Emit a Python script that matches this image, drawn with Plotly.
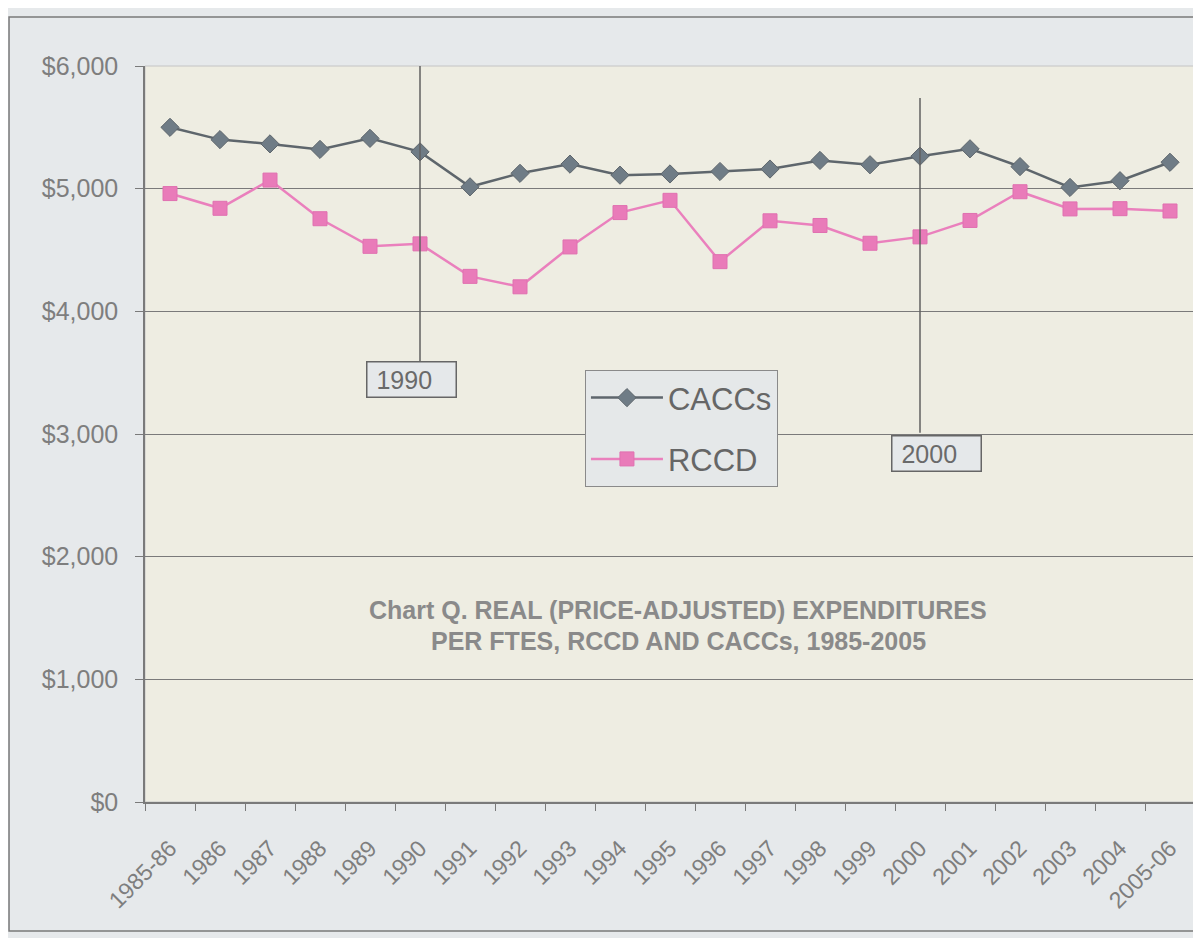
"""Chart Q: real (price-adjusted) expenditures per FTES, RCCD vs CACCs."""

import plotly.graph_objects as go

years = [
    "1985-86", "1986", "1987", "1988", "1989", "1990", "1991", "1992",
    "1993", "1994", "1995", "1996", "1997", "1998", "1999", "2000",
    "2001", "2002", "2003", "2004", "2005-06",
]
caccs = [
    5500, 5400, 5365, 5320, 5410, 5300, 5015, 5125, 5200, 5110, 5120,
    5140, 5160, 5230, 5195, 5265, 5325, 5180, 5010, 5065, 5215,
]
rccd = [
    4960, 4840, 5070, 4755, 4530, 4550, 4285, 4200, 4525, 4805, 4905,
    4405, 4738, 4700, 4555, 4607, 4741, 4975, 4835, 4837, 4818,
]
y_ticks = [0, 1000, 2000, 3000, 4000, 5000, 6000]
y_labels = [f"${v:,}" for v in y_ticks]

GRID = "#7a7a7a"
TEXT = "#7e7e7e"
FONT = "Liberation Sans, Arial, sans-serif"

fig = go.Figure()
fig.add_trace(
    go.Scatter(
        x=years, y=caccs, name="CACCs", legendgroup="a",
        mode="lines+markers",
        line={"color": "#5e666c", "width": 2.5},
        marker={"symbol": "diamond", "size": 14, "color": "#6f7c86",
                "line": {"color": "#5e666c", "width": 1}},
    )
)
fig.add_trace(
    go.Scatter(
        x=years, y=rccd, name="RCCD", legendgroup="b",
        mode="lines+markers",
        line={"color": "#ea80bd", "width": 2.5},
        marker={"symbol": "square", "size": 14, "color": "#e97bb9",
                "line": {"color": "#e070b0", "width": 1}},
    )
)

# year markers (category index, so numeric-looking labels aren't misread)
i1990 = years.index("1990")
i2000 = years.index("2000")
fig.add_shape(type="line", xref="x", yref="y", x0=i1990, x1=i1990,
              y0=3590, y1=6000, line={"color": "#606060", "width": 1.5})
fig.add_shape(type="line", xref="x", yref="y", x0=i2000, x1=i2000,
              y0=3010, y1=5740, line={"color": "#606060", "width": 1.5})

box = {"bordercolor": "#666", "borderwidth": 1.5, "bgcolor": "#e5e8ea",
       "borderpad": 2, "showarrow": False, "width": 84, "height": 30,
       "align": "left",
       "font": {"family": FONT, "size": 25, "color": "#6a6a6a"}}
fig.add_annotation(x=i1990, y=3444, text=" 1990", xshift=-9, **box)
fig.add_annotation(x=i2000, y=2841, text=" 2000", xshift=16, **box)

title_font = {"family": FONT, "size": 25, "color": "#8a8a8a"}
fig.add_annotation(x=0.508, y=0.2609, xref="paper", yref="paper", showarrow=False,
                   yanchor="middle",
                   text="<b>Chart Q. REAL (PRICE-ADJUSTED) EXPENDITURES</b>",
                   font=title_font)
fig.add_annotation(x=0.508, y=0.2188, xref="paper", yref="paper", showarrow=False,
                   yanchor="middle",
                   text="<b>PER FTES, RCCD AND CACCs, 1985-2005</b>",
                   font=title_font)

# plot-area border and outer frame
fig.add_shape(type="rect", xref="paper", yref="paper", x0=0, x1=1, y0=0, y1=1,
              line={"color": "#c4c4c4", "width": 1}, layer="below")
fig.add_shape(type="rect", xref="paper", yref="paper",
              x0=-0.1295, x1=1.03, y0=-0.1753, y1=1.0666,
              line={"color": "#7a7a7a", "width": 1.5})

fig.update_layout(
    width=1201, height=938,
    margin={"l": 137, "r": 14, "t": 58, "b": 144},
    paper_bgcolor="#e6e9eb",
    plot_bgcolor="#eeede2",
    font={"family": FONT, "color": TEXT},
    legend={
        "x": 0.419, "y": 0.587, "xanchor": "left", "yanchor": "top",
        "bgcolor": "#e5e8e9", "bordercolor": "#8a8a8a", "borderwidth": 1,
        "font": {"size": 31, "color": "#666666"},
        "tracegroupgap": 18, "itemwidth": 72,
    },
    xaxis={
        "type": "category", "categoryorder": "array", "categoryarray": years,
        "range": [-0.5, len(years) - 0.5],
        "tickangle": -45, "tickson": "boundaries",
        "ticks": "outside", "ticklen": 7, "tickcolor": GRID,
        "showgrid": False, "showline": True, "linecolor": GRID, "linewidth": 1.5,
        "ticklabelstandoff": 22,
        "tickfont": {"size": 23, "color": TEXT},
    },
    yaxis={
        "range": [0, 6000], "tickvals": y_ticks, "ticktext": y_labels,
        "ticks": "outside", "ticklen": 8, "tickcolor": GRID,
        "showgrid": True, "gridcolor": GRID, "gridwidth": 1,
        "showline": True, "linecolor": GRID, "linewidth": 1.5,
        "zeroline": False, "ticklabelstandoff": 12,
        "tickfont": {"size": 25, "color": TEXT},
    },
)

fig.write_html("out.html")
